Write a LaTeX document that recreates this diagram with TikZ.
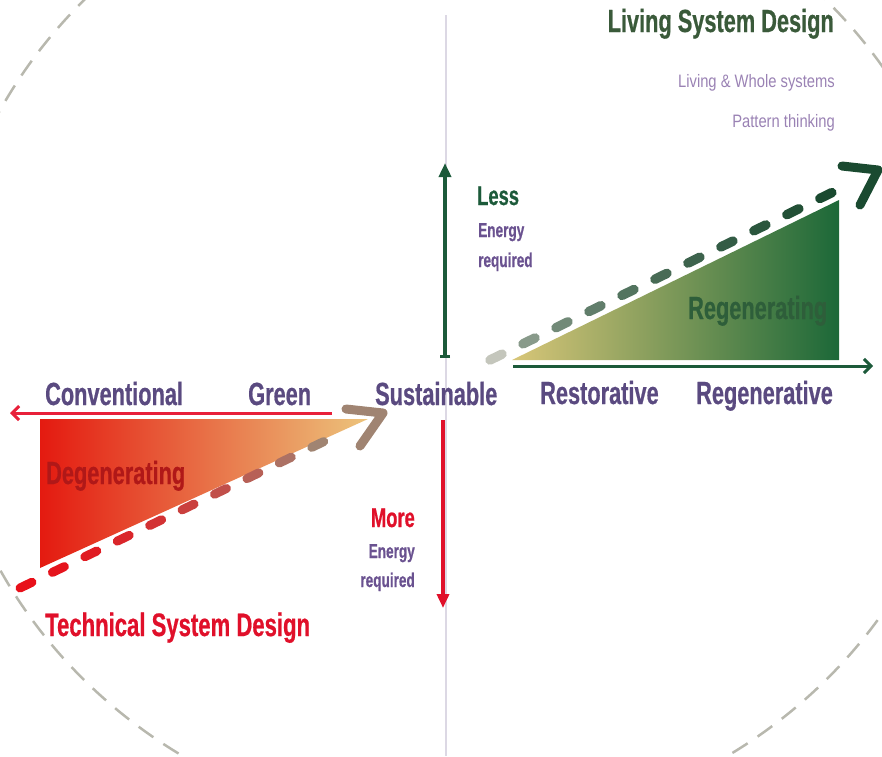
\documentclass[tikz,border=0pt]{standalone}
\usepackage{fontspec}
\setmainfont{Liberation Sans}
\newfontfamily\cond[FakeStretch=0.68, BoldFeatures={FakeBold=0.6}]{Liberation Sans}
\newfontfamily\thinf[FakeStretch=0.82]{Liberation Sans}
\usetikzlibrary{arrows.meta,calc}
\definecolor{purp}{HTML}{5A4A80}
\definecolor{epurp}{HTML}{6A5290}
\definecolor{lpurp}{HTML}{9A82B4}
\definecolor{ttlgreen}{HTML}{3A5A3A}
\definecolor{dgreen}{HTML}{1C5A3A}
\definecolor{regreen}{HTML}{2E5E3A}
\definecolor{chgreen}{HTML}{1A4A30}
\definecolor{dashgray}{HTML}{C4C6BC}
\definecolor{myred}{HTML}{E0102A}
\definecolor{linered}{HTML}{E8203A}
\definecolor{degred}{HTML}{B01818}
\definecolor{dashred}{HTML}{E8101A}
\definecolor{brownc}{HTML}{A08472}
\definecolor{tanc}{HTML}{ECC47C}
\definecolor{tril}{HTML}{E41A10}
\definecolor{trim}{HTML}{EA7A48}
\definecolor{gtl}{HTML}{D8C678}
\definecolor{gtm}{HTML}{7E9E42}
\definecolor{gtr}{HTML}{1C6838}
\definecolor{circc}{HTML}{B8B8AE}
\definecolor{axisc}{HTML}{DCD8E4}
\begin{document}
\begin{tikzpicture}[x=1pt,y=-1pt,
  big/.style={font=\cond\bfseries\fontsize{32}{36}\selectfont, text=purp, inner sep=0pt, anchor=base west},
  small/.style={font=\cond\bfseries\fontsize{20}{24}\selectfont, text=epurp, inner sep=0pt},
  light/.style={font=\thinf\fontsize{18}{22}\selectfont, text=lpurp, inner sep=0pt, anchor=base east},
  chev/.style={line width=9pt, line cap=round, line join=round}]
\useasboundingbox (0,0) rectangle (882,756);
\clip (0,0) rectangle (882,756);

% dashed circle
\draw[circc, line width=2.5pt, dash pattern=on 18pt off 12pt] (455,340) ellipse [x radius=515, y radius=490];

% thin vertical axis
\coordinate (axtop) at (446,15);
\coordinate (axbot) at (446,756);
\draw[axisc, line width=1.2pt] (axtop) -- (axbot);

% red triangle
\shade[left color=tril, middle color=trim, right color=tanc] (40,419) -- (368,419) -- (40,568) -- cycle;
% green triangle
\shade[left color=gtl, middle color=gtm, right color=gtr] (512,360) -- (839,360) -- (839,200) -- cycle;

% horizontal arrows
\coordinate (rls) at (332,413);
\coordinate (rle) at (10,413);
\draw[linered, line width=3pt, -{Straight Barb[length=7pt,width=14pt]}] (rls) -- (rle);
\coordinate (gls) at (513,366);
\coordinate (gle) at (873,366);
\draw[dgreen, line width=3pt, -{Straight Barb[length=7pt,width=14pt]}] (gls) -- (gle);

% vertical arrows
\coordinate (ups) at (445,358);
\coordinate (upe) at (445,163);
\draw[dgreen, line width=3.5pt, {Bar[width=10pt]}-{Triangle[length=14pt,width=12pt]}] (ups) -- (upe);
\coordinate (dns) at (443,420);
\coordinate (dne) at (443,608);
\draw[myred, line width=3.5pt, -{Triangle[length=14pt,width=12pt]}] (dns) -- (dne);

% red dashed trend line
\coordinate (rs) at (20,588);
\coordinate (rt) at (383,413);
\foreach \i in {0,...,9}{
  \pgfmathsetmacro\ta{\i*0.0893}
  \pgfmathsetmacro\tb{\ta+0.033}
  \pgfmathsetmacro\p{100*(\i/9)^1.5}
  \draw[line width=9pt, line cap=round, draw=brownc!\p!dashred] ($(rs)!\ta!(rt)$) -- ($(rs)!\tb!(rt)$);
}
\coordinate (ra1) at (346,409);
\coordinate (ra2) at (360,446);
\draw[chev, brownc] (ra1) -- (rt) -- (ra2);

% green dashed trend line
\coordinate (gs) at (490,360);
\coordinate (gt) at (878,170);
\foreach \i in {0,...,10}{
  \pgfmathsetmacro\ta{\i*0.085}
  \pgfmathsetmacro\tb{\ta+0.031}
  \pgfmathsetmacro\p{100*(\i/10)^0.45}
  \draw[line width=9.5pt, line cap=round, draw=chgreen!\p!dashgray] ($(gs)!\ta!(gt)$) -- ($(gs)!\tb!(gt)$);
}
\coordinate (ga1) at (842,166);
\coordinate (ga2) at (860,205);
\draw[chev, chgreen] (ga1) -- (gt) -- (ga2);

% labels
\node[big] (conv) at (45,405) {Conventional};
\node[big] (green) at (248,405) {Green};
\node[big] (sust) at (375,405) {Sustainable};
\node[big] (rest) at (540,404) {Restorative};
\node[big] (regv) at (696,404) {Regenerative};
\node[big, text=degred] (deg) at (46,484) {Degenerating};
\node[big, text=regreen] (reg) at (688,319) {Regenerating};
\node[big, text=myred, font=\cond\bfseries\fontsize{32.5}{36}\selectfont] (tsd) at (45,636) {Technical System Design};
\node[big, text=ttlgreen, anchor=base east, font=\cond\bfseries\fontsize{32}{36}\selectfont] (lsd) at (834,32) {Living System Design};
\node[light] (lws) at (835,87) {Living \& Whole systems};
\node[light] (pat) at (835,127) {Pattern thinking};

\node[small, anchor=base west, text=dgreen, font=\cond\bfseries\fontsize{27}{30}\selectfont] (less) at (477,205) {Less};
\node[small, anchor=base west] (en1) at (478,237) {Energy};
\node[small, anchor=base west] (rq1) at (478,267) {required};

\node[small, anchor=base east, text=myred, font=\cond\bfseries\fontsize{27}{30}\selectfont] (more) at (415,527) {More};
\node[small, anchor=base east] (en2) at (415,558) {Energy};
\node[small, anchor=base east] (rq2) at (415,587) {required};
\end{tikzpicture}
\end{document}
